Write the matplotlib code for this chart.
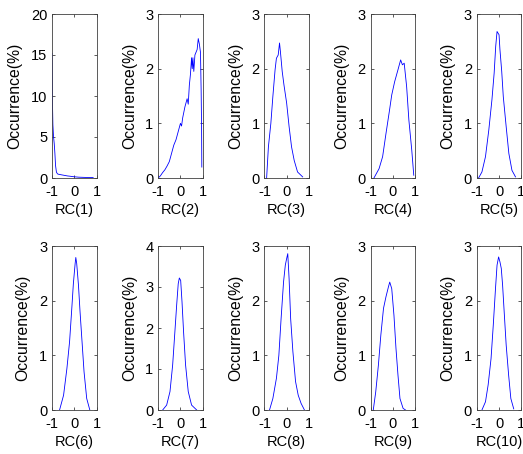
import matplotlib

matplotlib.use("Agg")
import matplotlib.pyplot as plt

plt.rcParams.update({
    "font.family": ["Liberation Sans", "DejaVu Sans"],
    "font.size": 10,
    "axes.unicode_minus": False,
    "xtick.direction": "in",
    "ytick.direction": "in",
    "xtick.top": True,
    "ytick.right": True,
    "xtick.major.size": 2.5,
    "ytick.major.size": 2.5,
    "xtick.major.width": 0.6,
    "ytick.major.width": 0.6,
    "xtick.color": "#404040",
    "ytick.color": "#404040",
    "xtick.labelcolor": "black",
    "ytick.labelcolor": "black",
    "axes.edgecolor": "#404040",
    "axes.linewidth": 0.6,
})

# one curve per component
rc1_x = [-1.0, -0.98, -0.96, -0.93, -0.9, -0.87, -0.84, -0.8, -0.75, -0.7, -0.6, -0.5,
         -0.4, -0.3, -0.2, -0.1, 0.0, 0.2, 0.4, 0.6, 0.85]
rc1_y = [15.2, 9.3, 6.5, 5.0, 4.2, 3.0, 1.5, 0.7, 0.5, 0.45, 0.4, 0.35,
         0.3, 0.25, 0.22, 0.18, 0.15, 0.1, 0.08, 0.06, 0.05]

rc2_x = [-1.0, -0.9, -0.8, -0.7, -0.6, -0.5, -0.4, -0.3, -0.2, -0.1, 0.0, 0.05, 0.1, 0.2,
         0.3, 0.35, 0.4, 0.45, 0.5, 0.53, 0.56, 0.6, 0.65, 0.7, 0.75, 0.8, 0.85, 0.9,
         0.93, 0.95, 0.96]
rc2_y = [0.0, 0.04, 0.1, 0.15, 0.22, 0.3, 0.45, 0.6, 0.7, 0.85, 1.0, 0.95, 1.1, 1.3,
         1.45, 1.35, 1.7, 1.9, 2.2, 2.0, 2.2, 1.95, 2.25, 2.3, 2.35, 2.55, 2.45, 2.3,
         1.6, 0.9, 0.2]

rc3_x = [-0.9, -0.82, -0.71, -0.62, -0.52, -0.46, -0.38, -0.32, -0.28, -0.2, -0.12,
         0.0, 0.11, 0.22, 0.34, 0.49, 0.72]
rc3_y = [0.0, 0.57, 1.0, 1.49, 1.98, 2.19, 2.25, 2.47, 2.31, 1.95, 1.7,
         1.37, 0.94, 0.57, 0.32, 0.11, 0.02]

rc4_x = [-0.85, -0.62, -0.46, -0.31, -0.15, -0.05, 0.08, 0.23, 0.35, 0.43, 0.51,
         0.62, 0.72, 0.85, 0.94]
rc4_y = [0.0, 0.17, 0.39, 0.81, 1.24, 1.52, 1.76, 1.98, 2.16, 2.07, 2.1,
         1.67, 1.06, 0.51, 0.05]

rc5_x = [-0.92, -0.77, -0.61, -0.46, -0.32, -0.22, -0.15, -0.09, 0.0, 0.04, 0.12,
         0.19, 0.32, 0.44, 0.58, 0.74]
rc5_y = [0.0, 0.11, 0.39, 0.88, 1.43, 1.92, 2.41, 2.68, 2.62, 2.35, 1.95,
         1.49, 0.94, 0.45, 0.14, 0.02]

rc6_x = [-0.66, -0.48, -0.33, -0.21, -0.11, -0.04, 0.04, 0.07, 0.11, 0.19, 0.26,
         0.35, 0.44, 0.56, 0.7]
rc6_y = [0.0, 0.27, 0.76, 1.25, 1.86, 2.31, 2.68, 2.79, 2.68, 2.28, 1.8,
         1.25, 0.7, 0.21, 0.0]

rc7_x = [-0.8, -0.62, -0.47, -0.35, -0.25, -0.17, -0.1, -0.05, 0.01, 0.07, 0.14,
         0.23, 0.35, 0.5, 0.73]
rc7_y = [0.0, 0.12, 0.45, 1.1, 1.91, 2.56, 3.08, 3.22, 3.16, 2.64, 1.91,
         1.1, 0.45, 0.12, 0.0]

rc8_x = [-0.77, -0.62, -0.46, -0.35, -0.25, -0.14, -0.06, 0.0, 0.05, 0.11, 0.18,
         0.28, 0.4, 0.52, 0.65, 0.8]
rc8_y = [0.0, 0.21, 0.58, 1.0, 1.67, 2.34, 2.65, 2.77, 2.86, 2.4, 1.67,
         1.07, 0.52, 0.27, 0.12, 0.0]

rc9_x = [-0.88, -0.77, -0.65, -0.54, -0.42, -0.31, -0.2, -0.14, -0.05, 0.05, 0.14,
         0.23, 0.32, 0.46, 0.57]
rc9_y = [0.0, 0.33, 0.82, 1.37, 1.86, 2.07, 2.25, 2.34, 2.22, 1.73, 1.13,
         0.64, 0.21, 0.03, 0.0]

rc10_x = [-0.77, -0.61, -0.49, -0.36, -0.26, -0.16, -0.09, -0.02, 0.04, 0.1, 0.16,
          0.24, 0.32, 0.43, 0.53, 0.66]
rc10_y = [0.0, 0.15, 0.46, 0.94, 1.55, 2.22, 2.65, 2.8, 2.71, 2.59, 2.28,
          1.73, 1.19, 0.64, 0.21, 0.02]

curves = [(rc1_x, rc1_y), (rc2_x, rc2_y), (rc3_x, rc3_y), (rc4_x, rc4_y), (rc5_x, rc5_y),
          (rc6_x, rc6_y), (rc7_x, rc7_y), (rc8_x, rc8_y), (rc9_x, rc9_y), (rc10_x, rc10_y)]
y_max = [20, 3, 3, 3, 3, 3, 4, 3, 3, 3]
y_step = [5, 1, 1, 1, 1, 1, 1, 1, 1, 1]

fig = plt.figure(figsize=(5.23, 4.54), dpi=100)
W, H = 523, 454
for i, (xs, ys) in enumerate(curves):
    row, col = divmod(i, 5)
    left = 52 + 106.2 * col
    top = 14 if row == 0 else 246
    ax = fig.add_axes([left / W, (H - top - 164) / H, 44.5 / W, 164 / H])
    ax.plot(xs, ys, color="#0000ff", linewidth=0.6)
    ax.set_xlim(-1, 1)
    ax.set_ylim(0, y_max[i])
    ax.set_xticks([-1, 0, 1])
    ax.set_yticks(list(range(0, y_max[i] + 1, y_step[i])))
    ax.tick_params(axis="x", pad=5, labelsize=10.5)
    ax.tick_params(axis="y", pad=3.5, labelsize=10.5)
    ax.set_xlabel(f"RC({i + 1})", labelpad=3, fontsize=10.5)
    ax.set_ylabel("Occurrence(%)", labelpad=6, fontsize=11.3)

fig.savefig("out.png", dpi=100)
